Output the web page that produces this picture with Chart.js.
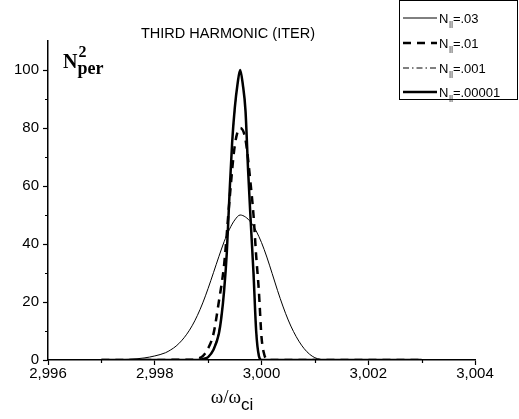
<!DOCTYPE html>
<html>
<head>
<meta charset="utf-8">
<script src="https://cdn.jsdelivr.net/npm/chart.js@4"></script>
<style>
  html, body { margin: 0; padding: 0; background: #fff; }
</style>
</head>
<body>
<canvas id="chart" width="519" height="419"></canvas>
<script>
// N|| = .03 (thin line)
const n03X = [2.997, 2.9975, 2.9978, 2.998, 2.9982, 2.9983, 2.9984, 2.9985, 2.9986, 2.9987, 2.9988, 2.9989, 2.999, 2.9991, 2.9992, 2.9993, 2.9994, 2.9995,
    2.9996, 2.9997, 2.9998, 2.9999, 3.0, 3.0001, 3.0002, 3.0003, 3.0004, 3.0005, 3.0006, 3.0007, 3.0008, 3.0009, 3.001, 3.0011, 3.0012, 3.003];
const n03Y = [0, 0.2, 0.7, 1.4, 2.5, 3.5, 4.8, 6.6, 8.9, 11.8, 15.4, 19.7, 24.7, 30.1, 35.6, 40.8, 45.1, 48.3,
    50, 49.3, 47.5, 44.5, 40.5, 35.5, 29.8, 24, 18.6, 13.8, 9.8, 6.5, 3.9, 2.0, 0.8, 0.2, 0, 0];

// N|| = .01 (dashed)
const n01X = [2.997, 2.9987, 2.9988, 2.9989, 2.999, 2.9991, 2.9992, 2.9993, 2.9994, 2.9995, 2.9996, 2.9997, 2.9998,
    2.99985, 2.9999, 2.99995, 3.0, 3.00005, 3.0001, 3.0002, 3.003];
const n01Y = [0, 0.1, 0.4, 1.3, 4, 9, 20, 33, 55, 74, 80, 76, 60, 50, 36, 24, 8, 2, 0.3, 0, 0];

// N|| = .001 (dash-dot)
const n001X = [2.997, 2.9987, 2.9988, 2.9989, 2.999, 2.9991, 2.9992, 2.99925, 2.9993, 2.99935, 2.9994, 2.99945, 2.9995, 2.99955,
    2.9996, 2.99965, 2.9997, 2.99975, 2.9998, 2.99985, 2.9999, 2.99995, 3.0, 3.0001, 3.003];
const n001Y = [0, 0, 0.1, 0.4, 1.2, 4, 10, 16, 25, 38, 56, 74, 86, 95, 99, 95, 86, 66, 48, 31, 11, 2, 0.2, 0, 0];

// N|| = .00001 (thick)
const n00001X = [2.997, 2.9987, 2.9988, 2.9989, 2.999, 2.9991, 2.9992, 2.99925, 2.9993, 2.99935, 2.9994, 2.99945, 2.9995, 2.99955,
    2.9996, 2.99965, 2.9997, 2.99975, 2.9998, 2.99985, 2.9999, 2.99995, 3.0, 3.0001, 3.003];
const n00001Y = [0, 0, 0, 0.3, 1, 3.5, 9, 15, 24, 37, 57, 75, 87, 95, 100, 95, 86, 65, 47, 30, 10, 1.5, 0, 0, 0];

const legendLabels = ['=.03', '=.01', '=.001', '=.00001'];
const xTicks = [2.996, 2.998, 3.0, 3.002, 3.004];
const xMinorTicks = [2.997, 2.999, 3.001, 3.003];
const yTicks = [0, 20, 40, 60, 80, 100];
const yMinorTicks = [10, 30, 50, 70, 90];

const SANS = '"Liberation Sans", Arial, sans-serif';
const SERIF = '"Liberation Serif", "Times New Roman", serif';

const pts = (xs, ys) => xs.map((x, i) => ({ x, y: ys[i] }));

const styles = [
    { width: 1, dash: [] },
    { width: 2.5, dash: [8, 6] },
    { width: 1, dash: [6, 3, 1.5, 3] },
    { width: 2.5, dash: [] }
];

const extras = {
    id: 'extras',
    afterDraw(chart) {
        const ctx = chart.ctx;
        const xs = chart.scales.x, ys = chart.scales.y;
        ctx.save();
        ctx.strokeStyle = '#000';
        ctx.fillStyle = '#000';

        // minor ticks
        ctx.lineWidth = 1.2;
        ctx.beginPath();
        xMinorTicks.forEach(v => {
            const px = Math.round(xs.getPixelForValue(v)) + 0.5;
            ctx.moveTo(px, ys.bottom);
            ctx.lineTo(px, ys.bottom + 3);
        });
        yMinorTicks.forEach(v => {
            const py = Math.round(ys.getPixelForValue(v)) + 0.5;
            ctx.moveTo(xs.left, py);
            ctx.lineTo(xs.left - 3, py);
        });
        ctx.stroke();

        // title
        ctx.font = '14.5px ' + SANS;
        ctx.textAlign = 'center';
        ctx.textBaseline = 'alphabetic';
        ctx.fillText('THIRD HARMONIC (ITER)', 228, 38);

        // y label N_per^2
        ctx.textAlign = 'left';
        ctx.font = 'bold 20px ' + SERIF;
        ctx.fillText('N', 63, 68);
        const nW = ctx.measureText('N').width;
        ctx.font = 'bold 18px ' + SERIF;
        ctx.fillText('per', 63 + nW, 74);
        ctx.font = 'bold 16px ' + SERIF;
        ctx.fillText('2', 63 + nW + 1, 57);

        // x label ω/ω_ci
        ctx.font = '19px ' + SERIF;
        const main = 'ω/ω';
        const mW = ctx.measureText(main).width;
        ctx.font = '17px ' + SANS;
        const sW = ctx.measureText('ci').width;
        const x0 = 232 - (mW + sW) / 2;
        ctx.font = '19px ' + SERIF;
        ctx.fillText(main, x0, 403);
        ctx.font = '17px ' + SANS;
        ctx.fillText('ci', x0 + mW, 410);

        // legend
        ctx.lineWidth = 1;
        ctx.setLineDash([]);
        ctx.strokeRect(399.5, 0.5, 118, 99);
        const rows = [18, 43, 68, 92];
        rows.forEach((ry, i) => {
            ctx.lineWidth = styles[i].width;
            ctx.setLineDash(styles[i].dash);
            ctx.beginPath();
            ctx.moveTo(403, ry);
            ctx.lineTo(437, ry);
            ctx.stroke();
            ctx.setLineDash([]);
            ctx.font = '13px ' + SANS;
            ctx.fillText('N', 439, ry + 5);
            const w1 = ctx.measureText('N').width;
            ctx.font = '8px ' + SANS;
            ctx.fillText('||', 439 + w1 + 0.5, ry + 8);
            ctx.font = '13px ' + SANS;
            ctx.fillText(legendLabels[i], 439 + w1 + 4.5, ry + 5);
        });
        ctx.restore();
    }
};

const datasets = [
    [n03X, n03Y], [n01X, n01Y], [n001X, n001Y], [n00001X, n00001Y]
].map(([xs, ys], i) => ({
    label: 'N||' + legendLabels[i],
    data: pts(xs, ys),
    borderColor: '#000',
    borderWidth: styles[i].width,
    borderDash: styles[i].dash,
    pointRadius: 0,
    fill: false,
    cubicInterpolationMode: 'monotone',
    order: 3 - i
}));

new Chart(document.getElementById('chart'), {
    type: 'line',
    data: { datasets },
    plugins: [extras],
    options: {
        responsive: false,
        animation: false,
        devicePixelRatio: 1,
        layout: { padding: { top: 41, right: 44, left: 0, bottom: 0 } },
        plugins: { legend: { display: false }, tooltip: { enabled: false }, title: { display: false } },
        scales: {
            x: {
                type: 'linear',
                min: 2.996,
                max: 3.004,
                afterBuildTicks: s => { s.ticks = xTicks.map(value => ({ value })); },
                afterFit: s => { s.height = 59; },
                ticks: {
                    color: '#000',
                    font: { family: SANS, size: 15 },
                    padding: 0,
                    maxRotation: 0,
                    callback: v => v.toFixed(3).replace('.', ',')
                },
                grid: { drawOnChartArea: false, tickLength: 5, tickColor: '#000', tickWidth: 1.2 },
                border: { color: '#000', width: 1.5 }
            },
            y: {
                min: 0,
                max: 110,
                afterBuildTicks: s => { s.ticks = yTicks.map(value => ({ value })); },
                afterFit: s => { s.width = 48; },
                ticks: {
                    color: '#000',
                    font: { family: SANS, size: 15 },
                    padding: 4
                },
                grid: { drawOnChartArea: false, tickLength: 5, tickColor: '#000', tickWidth: 1.2 },
                border: { color: '#000', width: 1.5 }
            }
        }
    }
});
</script>
</body>
</html>
